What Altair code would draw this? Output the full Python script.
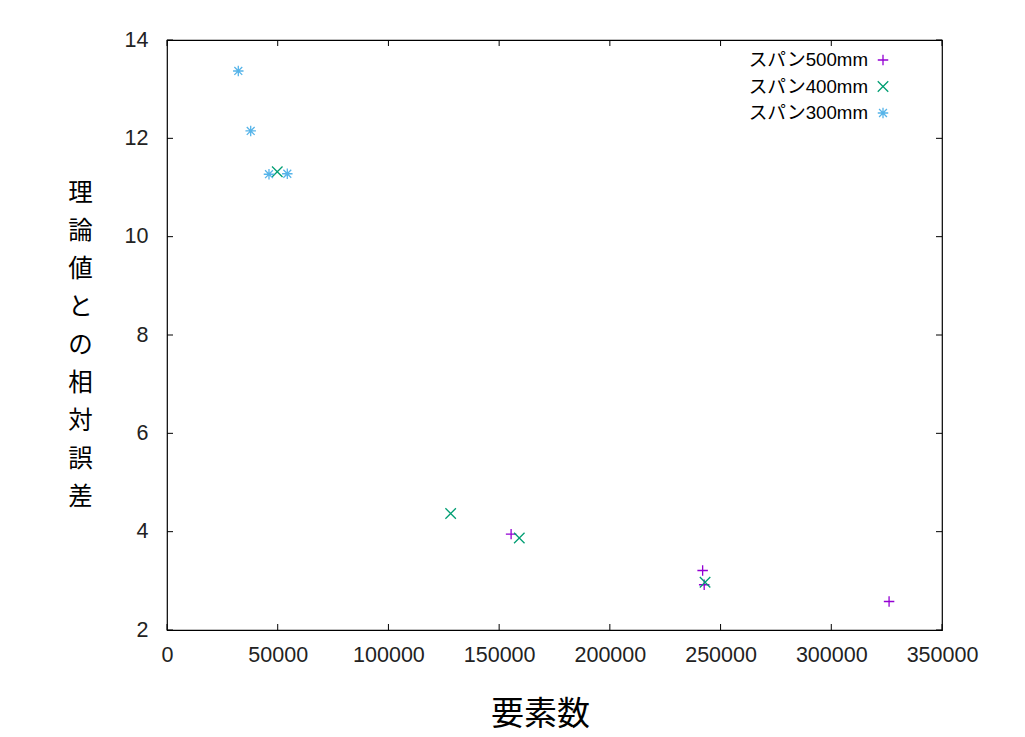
import altair as alt
import pandas as pd

series_names = ["スパン500mm", "スパン400mm", "スパン300mm"]
s500_x = [155400, 241900, 242600, 326100]
s500_y = [3.95, 3.21, 2.92, 2.58]
s400_x = [49800, 128100, 159100, 243000]
s400_y = [11.32, 4.37, 3.87, 2.97]
s300_x = [32200, 37800, 46060, 54330]
s300_y = [13.37, 12.15, 11.27, 11.28]

x_ticks = [0, 50000, 100000, 150000, 200000, 250000, 300000, 350000]
y_ticks = [2, 4, 6, 8, 10, 12, 14]

colors = ["#9400d3", "#009e73", "#56b4e9"]
shapes = [
    "M-1,0L1,0M0,-1L0,1",
    "M-1,-1L1,1M-1,1L1,-1",
    "M-1,0L1,0M0,-1L0,1M-0.75,-0.75L0.75,0.75M-0.75,0.75L0.75,-0.75",
]

W, H = 775, 590
FONT = "Liberation Sans, Noto Sans CJK JP, sans-serif"
JFONT = "Noto Sans CJK JP, sans-serif"

xs = alt.Scale(domain=[0, 350000], nice=False)
ys = alt.Scale(domain=[2, 14], nice=False)

ylab = ["理", "論", "値", "と", "の", "相", "対", "誤", "差"]

x_axis = alt.Axis(values=x_ticks, tickSize=0, labelFontSize=21.5, labelFont=FONT,
                  labelPadding=14, labelColor="#222", grid=False, domain=False,
                  format="d", labelFlush=False, labelOverlap=False,
                  title="要素数", titleFont=JFONT, titleFontSize=33,
                  titleFontWeight="normal", titleX=373, titleY=84,
                  titleAlign="center", titleBaseline="middle",
                  titleColor="#000")
y_axis = alt.Axis(values=y_ticks, tickSize=0, labelFontSize=21.5, labelFont=FONT,
                  labelPadding=19, labelColor="#222", grid=False, domain=False,
                  labelFlush=False, labelOverlap=False,
                  title=ylab, titleFont=JFONT, titleFontSize=24.5,
                  titleFontWeight="normal", titleAngle=0, titleAlign="center",
                  titleBaseline="top", titleX=-87, titleY=141, titleLineHeight=38,
                  titleColor="#000")

X = lambda f: alt.X(f, scale=xs, axis=x_axis)
Y = lambda f: alt.Y(f, scale=ys, axis=y_axis)

layers = []
series = [(s500_x, s500_y), (s400_x, s400_y), (s300_x, s300_y)]
for i, (sx, sy) in enumerate(series):
    df = pd.DataFrame({"x": sx, "y": sy})
    layers.append(
        alt.Chart(df).mark_point(shape=shapes[i], filled=False, size=110,
                                 strokeWidth=1.3, color=colors[i], opacity=1)
        .encode(x=X("x:Q"), y=Y("y:Q"))
    )

# inward mirrored ticks
xt = pd.DataFrame({"x": x_ticks})
yt = pd.DataFrame({"y": y_ticks})
tick_style = dict(color="#000", strokeWidth=1)
layers.append(alt.Chart(xt).mark_rule(**tick_style).encode(
    x=X("x:Q"), y=alt.value(H), y2=alt.value(H - 6)))
layers.append(alt.Chart(xt).mark_rule(**tick_style).encode(
    x=X("x:Q"), y=alt.value(0), y2=alt.value(6)))
layers.append(alt.Chart(yt).mark_rule(**tick_style).encode(
    y=Y("y:Q"), x=alt.value(0), x2=alt.value(6)))
layers.append(alt.Chart(yt).mark_rule(**tick_style).encode(
    y=Y("y:Q"), x=alt.value(W), x2=alt.value(W - 6)))

# key (legend) top-right
for i, name in enumerate(series_names):
    ld = pd.DataFrame({"name": [name]})
    yy = 20 + i * 26.5
    layers.append(alt.Chart(ld).mark_text(align="right", baseline="middle",
                                          font=FONT, fontSize=18.7, color="#000")
                  .encode(text="name:N", x=alt.value(701), y=alt.value(yy)))
    layers.append(alt.Chart(ld).mark_point(shape=shapes[i], filled=False, size=110,
                                           strokeWidth=1.3, color=colors[i], opacity=1)
                  .encode(x=alt.value(716), y=alt.value(yy)))

chart = alt.layer(*layers).properties(
    width=W, height=H,
    autosize=alt.AutoSizeParams(type="none"),
    padding={"left": 159, "top": 32, "right": 60, "bottom": 105},
).configure(background="white").configure_view(stroke="#000", strokeWidth=1.2)

chart.save("out.html", embed_options={"renderer": "svg", "actions": False})
